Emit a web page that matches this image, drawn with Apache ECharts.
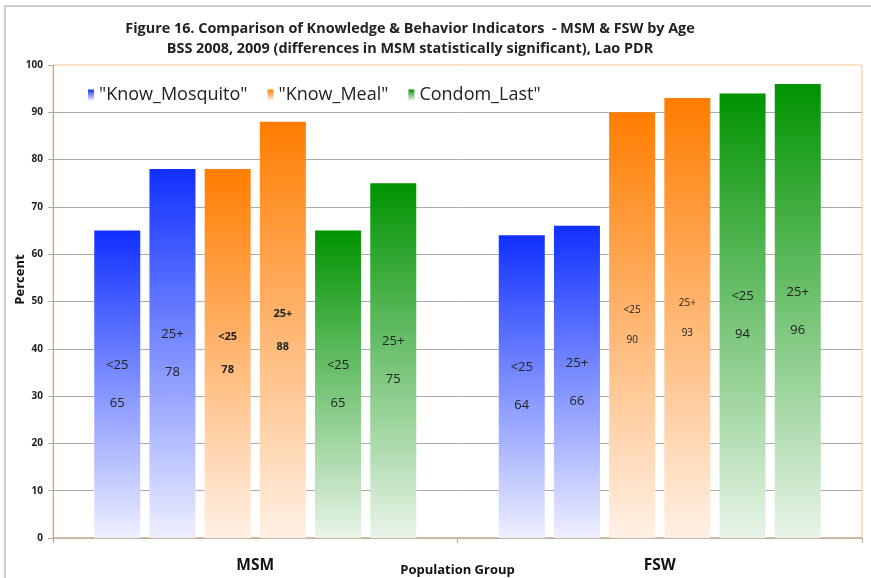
<!DOCTYPE html>
<html>
<head>
<meta charset="utf-8">
<script src="https://cdn.jsdelivr.net/npm/echarts@6/dist/echarts.min.js"></script>
<style>
html,body{margin:0;padding:0;background:#fff;}
#chart{width:871px;height:578px;}
</style>
</head>
<body>
<div id="chart"></div>
<script>
// ---- data ----
const categories = ['MSM', 'FSW'];
const ageGroups = ['<25', '25+'];
const legendNames = ['"Know_Mosquito"', '"Know_Meal"', 'Condom_Last"'];
const knowMosquitoUnder25 = [65, 64];
const knowMosquito25plus = [78, 66];
const knowMealUnder25 = [78, 90];
const knowMeal25plus = [88, 93];
const condomLastUnder25 = [65, 94];
const condomLast25plus = [75, 96];
const yTicks = [0, 10, 20, 30, 40, 50, 60, 70, 80, 90, 100];

const FONT = '"Open Sans", "Liberation Sans", sans-serif';

function grad(top, bottom) {
  return new echarts.graphic.LinearGradient(0, 0, 0, 1, [
    { offset: 0, color: top },
    { offset: 1, color: bottom }
  ]);
}
const palettes = [
  grad('#1030ff', '#eef0ff'),
  grad('#ff7d00', '#fff1e6'),
  grad('#009300', '#e9f4e9')
];

const seriesDefs = [
  { name: legendNames[0], age: ageGroups[0], values: knowMosquitoUnder25, pal: 0 },
  { name: legendNames[0], age: ageGroups[1], values: knowMosquito25plus, pal: 0 },
  { name: legendNames[1], age: ageGroups[0], values: knowMealUnder25, pal: 1, meal: true },
  { name: legendNames[1], age: ageGroups[1], values: knowMeal25plus, pal: 1, meal: true },
  { name: legendNames[2], age: ageGroups[0], values: condomLastUnder25, pal: 2 },
  { name: legendNames[2], age: ageGroups[1], values: condomLast25plus, pal: 2 }
];

const series = seriesDefs.map(function (d) {
  return {
    name: d.name,
    type: 'bar',
    barWidth: 46,
    barGap: '20%',
    itemStyle: { color: palettes[d.pal] },
    label: {
      show: true,
      position: 'inside',
      color: '#222',
      fontFamily: FONT,
      fontSize: 13,
      lineHeight: 19,
      formatter: function (p) { return d.age + '\n\n' + p.value; }
    },
    data: d.values.map(function (v, i) {
      if (!d.meal) return v;
      if (i === 0) return { value: v, label: { fontSize: 11, fontWeight: 'bold', lineHeight: 16.5 } };
      return { value: v, label: { fontSize: 10, lineHeight: 15 } };
    })
  };
});

const chart = echarts.init(document.getElementById('chart'), null, { renderer: 'canvas' });
chart.setOption({
  animation: false,
  backgroundColor: '#fff',
  textStyle: { fontFamily: FONT },
  title: {
    text: 'Figure 16. Comparison of Knowledge & Behavior Indicators  - MSM & FSW by Age\nBSS 2008, 2009 (differences in MSM statistically significant), Lao PDR',
    left: 405,
    textAlign: 'center',
    top: 14,
    textStyle: { fontSize: 14.4, fontWeight: 'bold', color: '#222', lineHeight: 20, fontFamily: FONT }
  },
  legend: {
    data: legendNames,
    left: 83,
    top: 81,
    icon: 'rect',
    itemWidth: 6,
    itemHeight: 11,
    itemGap: 20,
    textStyle: { fontSize: 18, color: '#222', fontFamily: FONT }
  },
  grid: {
    left: 53, right: 9, top: 65, bottom: 40,
    outerBoundsMode: 'none',
    containLabel: false,
    show: true, borderColor: '#f5c592', borderWidth: 1
  },
  xAxis: {
    type: 'category',
    data: categories,
    axisLine: { lineStyle: { color: '#c8b596', width: 1.5 } },
    axisTick: { show: true, length: 5, lineStyle: { color: '#aaa' } },
    axisLabel: { fontSize: 15.5, fontWeight: 'bold', color: '#111', margin: 20 },
    name: 'Population Group',
    nameLocation: 'middle',
    nameMoveOverlap: false,
    nameGap: 26,
    nameTextStyle: { fontSize: 13, fontWeight: 'bold', color: '#111' }
  },
  yAxis: {
    type: 'value',
    min: yTicks[0],
    max: yTicks[yTicks.length - 1],
    interval: 10,
    name: 'Percent',
    nameLocation: 'middle',
    nameRotate: 90,
    nameMoveOverlap: false,
    nameGap: 26,
    nameTextStyle: { fontSize: 13, fontWeight: 'bold', color: '#111', padding: [0, 0, 0, 44] },
    axisLine: { show: true, lineStyle: { color: '#b8ad9c' } },
    axisTick: { show: true, length: 5, lineStyle: { color: '#aaa' } },
    axisLabel: { fontSize: 10, fontWeight: 'bold', color: '#222', margin: 10 },
    splitLine: { show: true, showMaxLine: false, lineStyle: { color: '#aaa' } }
  },
  graphic: [{
    type: 'rect',
    shape: { x: 5, y: 6, width: 900, height: 600 },
    style: { fill: null, stroke: '#cfcfcf', lineWidth: 2 },
    silent: true,
    z: -1
  }],
  series: series
});
</script>
</body>
</html>
